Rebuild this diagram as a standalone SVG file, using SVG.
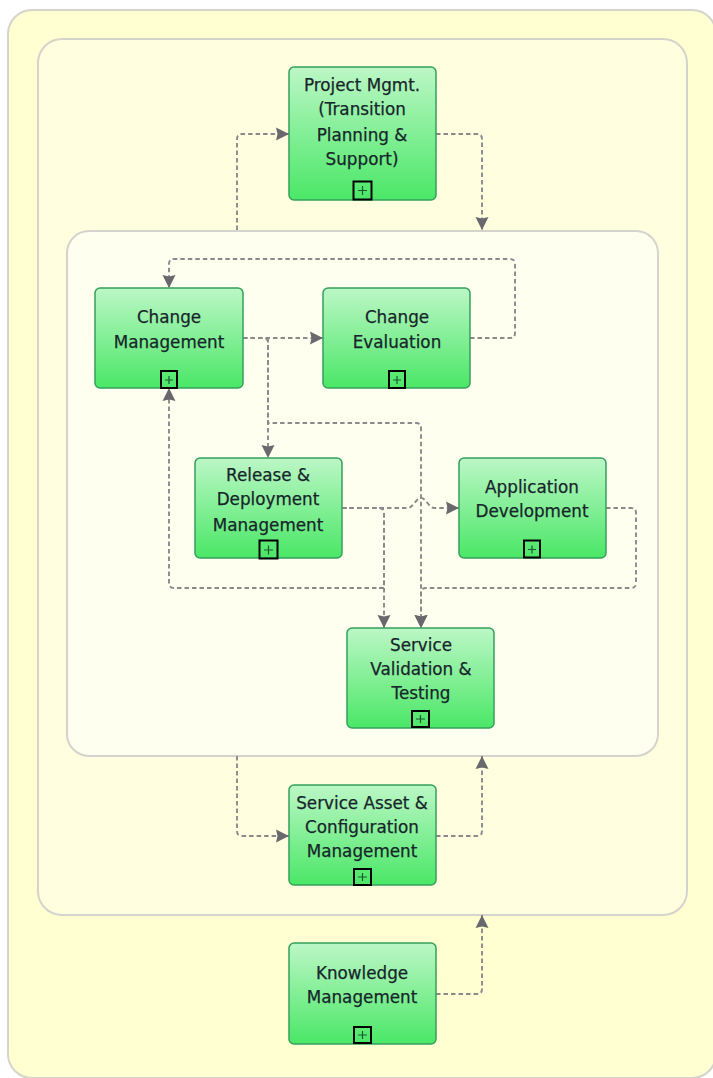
<svg xmlns="http://www.w3.org/2000/svg" width="713" height="1078" viewBox="0 0 713 1078">
<style>
.box{fill:url(#g);stroke:#35a05c;stroke-width:1.5}
.c{fill:none;stroke:#8a8a8c;stroke-width:1.9;stroke-dasharray:4.500 3}
.t{font-family:"DejaVu Sans",sans-serif;font-size:16.800px;fill:#16262a;stroke:#16262a;stroke-width:.25;text-anchor:middle}
.p{fill:none;stroke:#000;stroke-width:2}
.m{fill:none;stroke:#1c5a30;stroke-width:1.200}
</style>
<defs>
<linearGradient id="g" x1="0" y1="0" x2="0" y2="1"><stop offset="0" stop-color="#bcf7c6"/><stop offset="1" stop-color="#4ae766"/></linearGradient>
<marker id="a" markerUnits="userSpaceOnUse" markerWidth="16" markerHeight="16" refX="13" refY="8" orient="auto"><path d="M0 1.500 L13 8 L0 14.500 L1.500 8 Z" fill="#69696d"/></marker>
</defs>
<rect width="713" height="1078" fill="#fff"/>
<g id="containers">
<rect x="8" y="10" width="708" height="1068" rx="24" fill="#ffffd2" stroke="#d4d4cc" stroke-width="2"/>
<rect x="38" y="39" width="649" height="876" rx="24" fill="#ffffe0" stroke="#d4d4cc" stroke-width="2"/>
<rect x="67" y="231" width="591" height="525" rx="22" fill="#fffff0" stroke="#d4d4cc" stroke-width="2"/>
</g>
<g id="connectors">
<path class="c" marker-end="url(#a)" d="M237 230V139Q237 134 242 134H289"/>
<path class="c" marker-end="url(#a)" d="M436 134H477Q482 134 482 139V230"/>
<path class="c" marker-end="url(#a)" d="M470 338H510Q515 338 515 333V264Q515 259 510 259H174Q169 259 169 264V288"/>
<path class="c" marker-end="url(#a)" d="M243 338H323"/>
<path class="c" marker-end="url(#a)" d="M268 338V458"/>
<path class="c" marker-end="url(#a)" d="M243 338H263Q268 338 268 343V423H416Q421 423 421 428V628"/>
<path class="c" marker-end="url(#a)" d="M342 508H379Q384 508 384 513V628"/>
<path class="c" marker-end="url(#a)" d="M384 588H174Q169 588 169 583V388"/>
<path class="c" d="M342 508H379Q384 508 384 513V583Q384 588 379 588"/>
<path class="c" marker-end="url(#a)" d="M342 508H408C413 508 416 498 421 498C426 498 429 508 434 508H459"/>
<path class="c" marker-end="url(#a)" d="M606 508H631Q636 508 636 513V583Q636 588 631 588H426Q421 588 421 593V628"/>
<path class="c" marker-end="url(#a)" d="M237 756V831Q237 836 242 836H289"/>
<path class="c" marker-end="url(#a)" d="M436 836H477Q482 836 482 831V756"/>
<path class="c" marker-end="url(#a)" d="M436 994H477Q482 994 482 989V915"/>
</g>
<g id="project"><rect class="box" x="289" y="67" width="147" height="133" rx="5"/>
<text class="t"><tspan x="362" y="91">Project Mgmt.</tspan><tspan x="362" y="115">(Transition</tspan><tspan x="362" y="141">Planning &amp;</tspan><tspan x="362" y="165">Support)</tspan></text>
<rect class="p" x="353.500" y="181.500" width="18" height="18"/><path class="m" d="M358 190.500h9M362.500 186v9"/></g>
<g id="change-management"><rect class="box" x="95" y="288" width="148" height="100" rx="5"/>
<text class="t"><tspan x="169" y="323">Change</tspan><tspan x="169" y="348">Management</tspan></text>
<rect class="p" x="161" y="371" width="16" height="17"/><path class="m" d="M165 380h8M169 376v8"/></g>
<g id="change-evaluation"><rect class="box" x="323" y="288" width="147" height="100" rx="5"/>
<text class="t"><tspan x="397" y="323">Change</tspan><tspan x="397" y="348">Evaluation</tspan></text>
<rect class="p" x="389" y="371" width="16" height="17"/><path class="m" d="M393 380h8M397 376v8"/></g>
<g id="release"><rect class="box" x="195" y="458" width="147" height="100" rx="5"/>
<text class="t"><tspan x="268" y="481">Release &amp;</tspan><tspan x="268" y="505">Deployment</tspan><tspan x="268" y="531">Management</tspan></text>
<rect class="p" x="259.500" y="540.500" width="18" height="18"/><path class="m" d="M264 550h9M268.500 545.500v9"/></g>
<g id="application"><rect class="box" x="459" y="458" width="147" height="100" rx="5"/>
<text class="t"><tspan x="532" y="493">Application</tspan><tspan x="532" y="517">Development</tspan></text>
<rect class="p" x="524" y="540.500" width="16" height="17"/><path class="m" d="M528 549.500h8M532 545.500v8"/></g>
<g id="validation"><rect class="box" x="347" y="628" width="147" height="100" rx="5"/>
<text class="t"><tspan x="421" y="651">Service</tspan><tspan x="421" y="675">Validation &amp;</tspan><tspan x="421" y="699">Testing</tspan></text>
<rect class="p" x="412" y="711" width="17" height="16"/><path class="m" d="M416 719h9M420.500 715v8"/></g>
<g id="asset"><rect class="box" x="289" y="785" width="147" height="100" rx="5"/>
<text class="t"><tspan x="362" y="809">Service Asset &amp;</tspan><tspan x="362" y="833">Configuration</tspan><tspan x="362" y="857">Management</tspan></text>
<rect class="p" x="354" y="869" width="17" height="16"/><path class="m" d="M358 877h9M362.500 873v8"/></g>
<g id="knowledge"><rect class="box" x="289" y="943" width="147" height="101" rx="5"/>
<text class="t"><tspan x="362" y="979">Knowledge</tspan><tspan x="362" y="1003">Management</tspan></text>
<rect class="p" x="354" y="1027" width="17" height="16"/><path class="m" d="M358 1035h9M362.500 1031v8"/></g>
</svg>
